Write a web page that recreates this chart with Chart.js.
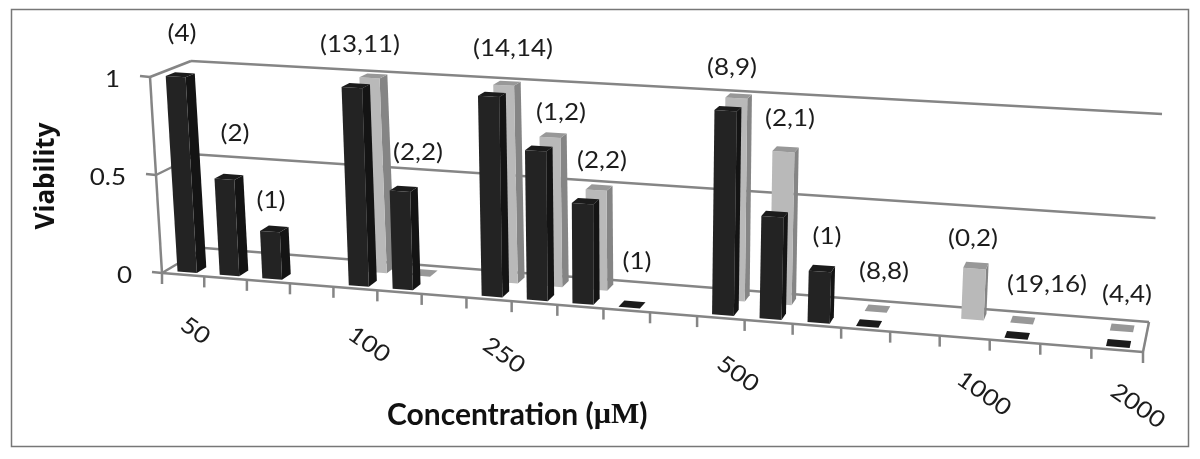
<!DOCTYPE html>
<html>
<head>
<meta charset="utf-8">
<style>
  html, body { margin: 0; padding: 0; background: #fff; overflow: hidden; }
  canvas { display: block; }
</style>
<script src="https://cdn.jsdelivr.net/npm/chart.js@4"></script>
</head>
<body>
<canvas id="chart" width="1200" height="459"></canvas>
<script>
// one slot per tick gap of the category axis, blank slots have no label
const categories = ['50', '', '', '', '100', '', '', '250', '', '', '', '', '500', '', '', '', '', '1000', '', '', '2000'];
const viabilityFront = [1, 0.49, 0.24, null, 0.995, 0.49, null, 0.99, 0.735, 0.49, 0, null, 0.985, 0.49, 0.245, 0, null, null, 0, null, 0];
const viabilityBack = [null, null, null, null, 1, 0, null, 1, 0.75, 0.5, null, null, 1, 0.75, null, 0, null, 0.245, 0, null, 0];
const sampleCounts = ['(4)', '(2)', '(1)', '(13,11)', '(2,2)', '(14,14)', '(1,2)', '(2,2)', '(1)', '(8,9)', '(2,1)', '(1)', '(8,8)', '(0,2)', '(19,16)', '(4,4)'];

// free floating text boxes in the original, so they get their own layout list
const countSpots = [[182, 34], [235, 134], [271, 201], [360, 45], [418, 153], [513, 49], [561, 113], [602, 161],
  [637, 262], [732, 68], [790, 119], [827, 237], [884, 272], [973, 239], [1047, 285], [1127, 295]];

// screen corners of the plot box: f/b = front/back, t/b = top/bottom, l/r = left/right
const box = {
  fbl: [162, 273], fbr: [1143, 352], bbl: [204, 248], bbr: [1149, 322],
  ftl: [150, 77], ftr: [1157, 134], btl: [191, 61], btr: [1162, 114]
};
const foreshorten = 0.9;
const lineColor = '#858585';
const textColor = '#1c1c1c';
const textStretch = 1.13;

const mix = (a, b, t) => [a[0] + (b[0] - a[0]) * t, a[1] + (b[1] - a[1]) * t];

// s, v, w are all 0..1 across the box
function boxPoint(s, v, w) {
  const bottom = mix(mix(box.fbl, box.fbr, s), mix(box.bbl, box.bbr, s), w);
  const top = mix(mix(box.ftl, box.ftr, s), mix(box.btl, box.btr, s), w);
  return mix(bottom, top, v);
}

// flat chart pixel -> point on the slanted box
function project(chart, px, py, w) {
  const area = chart.chartArea;
  const u = (px - area.left) / area.width;
  const s = u * foreshorten / (1 + u * (foreshorten - 1));
  return boxPoint(s, (area.bottom - py) / area.height, w);
}

function fillQuad(ctx, pts, color) {
  ctx.fillStyle = color;
  ctx.beginPath();
  pts.forEach((p, i) => i ? ctx.lineTo(p[0], p[1]) : ctx.moveTo(p[0], p[1]));
  ctx.closePath();
  ctx.fill();
}

function strokeLine(ctx, a, b) {
  ctx.beginPath();
  ctx.moveTo(a[0], a[1]);
  ctx.lineTo(b[0], b[1]);
  ctx.stroke();
}

function wideText(ctx, str, x, y, angle, align) {
  ctx.save();
  ctx.translate(x, y);
  ctx.rotate(angle || 0);
  ctx.scale(textStretch, 1);
  ctx.textAlign = align || 'center';
  ctx.textBaseline = 'middle';
  ctx.fillText(str, 0, 0);
  ctx.restore();
}

// bar controller that draws each bar as a box standing in the slanted floor
class Box3DController extends Chart.BarController {
  draw() {
    const chart = this.chart;
    const ctx = chart.ctx;
    const ds = this.getDataset();
    const bars = this.getMeta().data;
    bars.forEach((bar, i) => {
      if (ds.data[i] === null) return;
      const l = bar.x - bar.width / 2;
      const r = bar.x + bar.width / 2;
      const fbl = project(chart, l, bar.base, ds.depthFrom);
      const fbr = project(chart, r, bar.base, ds.depthFrom);
      const ftl = project(chart, l, bar.y, ds.depthFrom);
      const ftr = project(chart, r, bar.y, ds.depthFrom);
      const bbr = project(chart, r, bar.base, ds.depthTo);
      const btr = project(chart, r, bar.y, ds.depthTo);
      const btl = project(chart, l, bar.y, ds.depthTo);
      fillQuad(ctx, [ftr, btr, bbr, fbr], ds.sideColor);
      fillQuad(ctx, [fbl, fbr, ftr, ftl], ds.backgroundColor);
      fillQuad(ctx, [ftl, ftr, btr, btl], ds.topColor);
    });
  }
}
Box3DController.id = 'box3d';
Box3DController.defaults = Chart.BarController.defaults;
Box3DController.overrides = Chart.BarController.overrides;
Chart.register(Box3DController);

const box3dFrame = {
  id: 'box3dFrame',
  beforeDatasetsDraw(chart) {
    const ctx = chart.ctx;
    const xs = chart.scales.x;
    const ys = chart.scales.y;
    const area = chart.chartArea;
    ctx.save();

    ctx.strokeStyle = '#777';
    ctx.lineWidth = 1.5;
    ctx.strokeRect(11.5, 9.5, 1177, 437);

    ctx.strokeStyle = lineColor;
    ctx.lineWidth = 2.5;
    ctx.fillStyle = textColor;
    ctx.font = '23px Lato';

    // value gridlines: back wall, left wall, tick mark and label
    ys.ticks.forEach(tick => {
      const py = ys.getPixelForValue(tick.value);
      const front = project(chart, area.left, py, 0);
      const back = project(chart, area.left, py, 1);
      const end = project(chart, area.right, py, 1);
      strokeLine(ctx, [front[0] - 10, front[1] - 1], front);
      strokeLine(ctx, front, back);
      strokeLine(ctx, back, end);
      wideText(ctx, String(tick.value), front[0] - 30, front[1] + 3, 0, 'right');
    });

    // left edge of the wall, front and right edge of the floor
    strokeLine(ctx, project(chart, area.left, area.top, 0), project(chart, area.left, area.bottom, 0));
    strokeLine(ctx, project(chart, area.left, area.bottom, 0), project(chart, area.right, area.bottom, 0));
    strokeLine(ctx, project(chart, area.right, area.bottom, 0), project(chart, area.right, area.bottom, 1));

    // category ticks sit between the slots
    const half = (xs.getPixelForValue(1) - xs.getPixelForValue(0)) / 2;
    categories.forEach((name, i) => {
      const p = project(chart, xs.getPixelForValue(i) - half, area.bottom, 0);
      strokeLine(ctx, p, [p[0], p[1] + 11]);
      if (i === categories.length - 1) {
        const q = project(chart, xs.getPixelForValue(i) + half, area.bottom, 0);
        strokeLine(ctx, q, [q[0], q[1] + 11]);
      }
      if (name) {
        const c = project(chart, xs.getPixelForValue(i), area.bottom, 0);
        const t = (c[0] - box.fbl[0]) / (box.fbr[0] - box.fbl[0]);
        wideText(ctx, name, c[0] + 12 + 9 * t, c[1] + 56, 35 * Math.PI / 180);
      }
    });
    ctx.restore();
  },
  afterDatasetsDraw(chart) {
    const ctx = chart.ctx;
    ctx.save();
    ctx.fillStyle = textColor;
    ctx.font = '23px Lato';
    sampleCounts.forEach((txt, i) => wideText(ctx, txt, countSpots[i][0], countSpots[i][1]));

    // axis title mixes two fonts, the library title can't do that
    ctx.fillStyle = '#111';
    ctx.textBaseline = 'middle';
    ctx.textAlign = 'left';
    const parts = [['Concentration (', 'bold 30px Lato'], ['\u00b5M', 'bold 30px "Liberation Serif"'], [')', 'bold 30px Lato']];
    let x = 387;
    parts.forEach(([str, font]) => {
      ctx.font = font;
      ctx.fillText(str, x, 415);
      x += ctx.measureText(str).width;
    });
    ctx.restore();
  }
};

new Chart(document.getElementById('chart'), {
  type: 'box3d',
  data: {
    labels: categories,
    datasets: [
      { label: 'Front', data: viabilityFront, backgroundColor: '#232323', sideColor: '#141414', topColor: '#1b1b1b', depthFrom: 0.1, depthTo: 0.33, clip: false },
      { label: 'Back', data: viabilityBack, backgroundColor: '#b9b9b9', sideColor: '#858585', topColor: '#989898', depthFrom: 0.62, depthTo: 0.85, clip: false }
    ]
  },
  options: {
    responsive: false,
    animation: false,
    grouped: false,
    barPercentage: 0.46,
    categoryPercentage: 1,
    layout: { padding: { left: 27, right: 57, top: 81, bottom: 180 } },
    plugins: { legend: { display: false }, tooltip: { enabled: false } },
    scales: {
      x: {
        type: 'category',
        offset: true,
        grid: { display: false },
        border: { display: false },
        ticks: { display: false, autoSkip: false }
      },
      y: {
        type: 'linear',
        min: 0,
        max: 1,
        grid: { display: false },
        border: { display: false },
        ticks: { display: false, stepSize: 0.5 },
        title: { display: true, text: 'Viability', color: '#111', font: { family: 'Open Sans', size: 26, weight: 'bold' } }
      }
    }
  },
  plugins: [box3dFrame]
});
</script>
</body>
</html>
